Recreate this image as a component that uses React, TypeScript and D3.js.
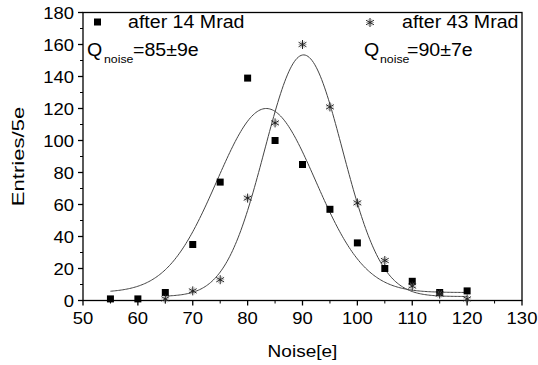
import React from "react";
import * as d3 from "d3";

const noise = [55, 60, 65, 70, 75, 80, 85, 90, 95, 100, 105, 110, 115, 120];
const entries14 = [1, 1, 5, 35, 74, 139, 100, 85, 57, 36, 20, 12, 5, 6];
const noise43 = [65, 70, 75, 80, 85, 90, 95, 100, 105, 110, 115, 120];
const entries43 = [1, 6, 13, 64, 111, 160, 121, 61, 25, 9, 4, 1];

// Gaussian fit parameters: [y0, A, xc, sigma, xFrom, xTo]
const fit14 = [5, 115, 83.4, 9, 55, 120];
const fit43 = [2.5, 151, 90.2, 7.1, 65, 120];

const xTicks = [50, 60, 70, 80, 90, 100, 110, 120, 130];
const xMinor = [55, 65, 75, 85, 95, 105, 115, 125];
const yTicks = [0, 20, 40, 60, 80, 100, 120, 140, 160, 180];
const yMinor = [10, 30, 50, 70, 90, 110, 130, 150, 170];

const FONT = "'Liberation Sans', Arial, sans-serif";
const SX = 1.12;

function T({ x, y, size, anchor = "start", children }: any) {
  return (
    <text
      transform={`translate(${x},${y}) scale(${SX},1)`}
      fontSize={size}
      fontFamily={FONT}
      textAnchor={anchor}
      fill="#000"
    >
      {children}
    </text>
  );
}

function Star({ cx, cy, r = 4.5 }: any) {
  const lines = [0, 60, 120].map((a) => {
    const rad = (a * Math.PI) / 180;
    const dx = Math.sin(rad) * r;
    const dy = Math.cos(rad) * r;
    return <line key={a} x1={cx - dx} y1={cy - dy} x2={cx + dx} y2={cy + dy} stroke="#222" strokeWidth={1} />;
  });
  const lines2 = [30, 90, 150].map((a) => {
    const rad = (a * Math.PI) / 180;
    const dx = Math.sin(rad) * r * 0.9;
    const dy = Math.cos(rad) * r * 0.9;
    return <line key={"b" + a} x1={cx - dx} y1={cy - dy} x2={cx + dx} y2={cy + dy} stroke="#888" strokeWidth={0.6} />;
  });
  return <g>{lines2}{lines}</g>;
}

export default function App() {
  const W = 538, H = 365;
  const x = d3.scaleLinear().domain([50, 130]).range([83, 522]);
  const y = d3.scaleLinear().domain([0, 180]).range([300.5, 12.5]);

  const gauss = (p: number[]) => {
    const [y0, A, xc, s, a, b] = p;
    const xs = d3.range(a, b + 0.001, 0.25);
    return xs.map((v) => [v, y0 + A * Math.exp(-((v - xc) ** 2) / (2 * s * s))] as [number, number]);
  };
  const line = d3.line<[number, number]>().x((d) => x(d[0])).y((d) => y(d[1]));

  return (
    <svg width={W} height={H} style={{ position: "absolute", left: 0, top: 0, background: "#fff" }}>
      <rect x={0} y={0} width={W} height={H} fill="#fff" />
      {/* fit curves */}
      <path d={line(gauss(fit14)) || ""} fill="none" stroke="#444" strokeWidth={1} />
      <path d={line(gauss(fit43)) || ""} fill="none" stroke="#444" strokeWidth={1} />
      {/* frame */}
      <rect x={x(50)} y={y(180)} width={x(130) - x(50)} height={y(0) - y(180)} fill="none" stroke="#000" strokeWidth={1.3} />
      {/* x ticks */}
      {xTicks.map((t) => (
        <g key={"xt" + t}>
          <line x1={x(t)} x2={x(t)} y1={y(0)} y2={y(0) + 5} stroke="#000" strokeWidth={1.3} />
          <T x={x(t)} y={y(0) + 23} size={16.5} anchor="middle">{t}</T>
        </g>
      ))}
      {xMinor.map((t) => (
        <line key={"xm" + t} x1={x(t)} x2={x(t)} y1={y(0)} y2={y(0) + 3} stroke="#000" strokeWidth={1} />
      ))}
      {/* y ticks */}
      {yTicks.map((t) => (
        <g key={"yt" + t}>
          <line x1={x(50) - 5} x2={x(50)} y1={y(t)} y2={y(t)} stroke="#000" strokeWidth={1.3} />
          <T x={x(50) - 9} y={y(t) + 6} size={16.5} anchor="end">{t}</T>
        </g>
      ))}
      {yMinor.map((t) => (
        <line key={"ym" + t} x1={x(50) - 3} x2={x(50)} y1={y(t)} y2={y(t)} stroke="#000" strokeWidth={1} />
      ))}
      {/* axis titles */}
      <T x={(x(50) + x(130)) / 2} y={357} size={17} anchor="middle">Noise[e]</T>
      <text
        transform={`translate(24,${(y(0) + y(180)) / 2}) rotate(-90) scale(1.3,1)`}
        fontSize={17}
        fontFamily={FONT}
        textAnchor="middle"
      >
        Entries/5e
      </text>
      {/* data */}
      {noise.map((n, i) => (
        <rect key={"s" + n} x={x(n) - 3.5} y={y(entries14[i]) - 3.5} width={7} height={7} fill="#000" />
      ))}
      {noise43.map((n, i) => (
        <Star key={"st" + n} cx={x(n)} cy={y(entries43[i])} />
      ))}
      {/* legend left */}
      <rect x={94} y={18.5} width={7} height={7} fill="#000" />
      <T x={128} y={28} size={17.5}>after 14 Mrad</T>
      <T x={87} y={55.5} size={17.5}>Q</T>
      <T x={104} y={62.5} size={11}>noise</T>
      <T x={133} y={55.5} size={17.5}>=85±9e</T>
      {/* legend right */}
      <Star cx={370} cy={22.5} />
      <T x={402} y={28} size={17.5}>after 43 Mrad</T>
      <T x={364} y={55.5} size={17.5}>Q</T>
      <T x={380} y={62.5} size={11}>noise</T>
      <T x={407} y={55.5} size={17.5}>=90±7e</T>
    </svg>
  );
}
